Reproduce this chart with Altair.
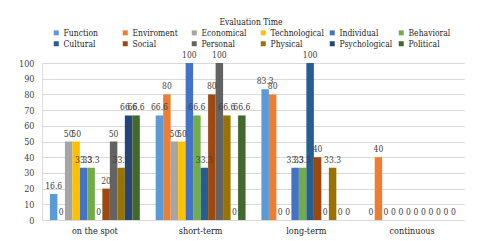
import altair as alt
import pandas as pd

categories = ["on the spot", "short-term", "long-term", "continuous"]
series = ["Function", "Enviroment", "Economical", "Technological", "Individual", "Behavioral",
          "Cultural", "Social", "Personal", "Physical", "Psychological", "Political"]
colors = ["#5B9BD5", "#ED7D31", "#A5A5A5", "#FFC000", "#4472C4", "#70AD47",
          "#255E91", "#9E480E", "#636363", "#997300", "#264478", "#43682B"]

on_the_spot = [16.6, 0, 50, 50, 33.3, 33.3, 0, 20, 50, 33.3, 66.6, 66.6]
short_term = [66.6, 80, 50, 50, 100, 66.6, 33.3, 80, 100, 66.6, 0, 66.6]
long_term = [83.3, 80, 0, 0, 33.3, 33.3, 100, 40, 0, 33.3, 0, 0]
continuous = [0, 40, 0, 0, 0, 0, 0, 0, 0, 0, 0, 0]

rows = []
for cat, vals in zip(categories, [on_the_spot, short_term, long_term, continuous]):
    for s, v in zip(series, vals):
        rows.append({"time": cat, "series": s, "value": v, "label": f"{v:g}"})
df = pd.DataFrame(rows)

FONT = "DejaVu Serif Condensed, DejaVu Serif"

base = alt.Chart(df).encode(
    x=alt.X("time:N", sort=categories, title=None,
            scale=alt.Scale(paddingInner=0.15, paddingOuter=0.075),
            axis=alt.Axis(labelAngle=0, ticks=False, domainColor="#D9D9D9",
                          labelFont=FONT, labelFontSize=9, labelColor="#262626",
                          labelPadding=6, grid=False)),
    xOffset=alt.XOffset("series:N", sort=series,
                        scale=alt.Scale(paddingInner=0, paddingOuter=0)),
    y=alt.Y("value:Q", title=None,
            scale=alt.Scale(domain=[0, 100], nice=False),
            axis=alt.Axis(values=list(range(0, 101, 10)), ticks=False, domain=False,
                          gridColor="#D9D9D9", labelFont=FONT, labelFontSize=9,
                          labelColor="#404040", labelPadding=8)),
)

bars = base.mark_bar().encode(
    color=alt.Color("series:N", sort=series, title="Evaluation Time",
                    scale=alt.Scale(domain=series, range=colors),
                    legend=alt.Legend(orient="none", legendX=10, legendY=-45,
                                      direction="horizontal", columns=6,
                                      gridAlign="all", columnPadding=4, rowPadding=2,
                                      symbolType="square", symbolSize=25, symbolStrokeWidth=0,
                                      labelFont=FONT, labelFontSize=8.5, labelColor="#262626",
                                      labelOffset=3,
                                      titleFont=FONT, titleFontSize=8.5, titleFontWeight="normal",
                                      titleColor="#262626", titleAnchor="middle", titlePadding=2))
)

text = base.mark_text(baseline="bottom", dy=-3, font=FONT, fontSize=8.5, color="#404040").encode(
    text="label:N"
)

chart = (bars + text).properties(
    width=423, height=157,
    autosize=alt.AutoSizeParams(type="none"),
    padding={"left": 34, "top": 55, "right": 0, "bottom": 25},
    background="white",
).configure_view(stroke=None).configure(font=FONT)

chart.save("out.html", embed_options={"renderer": "svg", "actions": False})
